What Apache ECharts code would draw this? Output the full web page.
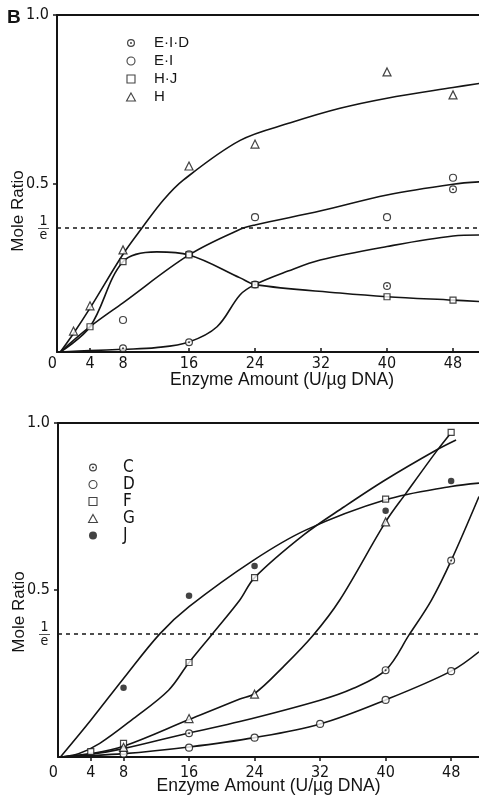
<!DOCTYPE html>
<html><head><meta charset="utf-8">
<script src="https://cdn.jsdelivr.net/npm/echarts@6/dist/echarts.min.js"></script>
<style>html,body{margin:0;padding:0;background:#fff}#c{width:479px;height:799px}</style>
</head><body><div id="c"></div>
<script>
// ---------- axis ticks ----------
const xTickValues = [0, 4, 8, 16, 24, 32, 40, 48];
const xTickMarks = [4, 8, 16, 24, 32, 40, 48];
const yTickMarks = [0.5, 1];
const INV_E = 1 / Math.E;
const yLabelValues = [INV_E, 0.5, 1];
const xTitle = 'Enzyme Amount (U/µg DNA)';
const yTitle = 'Mole Ratio';

// ---------- top panel (B) measured points ----------
const eidPts = [[8,0.011],[16,0.029],[24,0.20],[40,0.196],[48,0.483]];
const eiPts  = [[8,0.095],[16,0.29],[24,0.40],[40,0.40],[48,0.517]];
const hjPts  = [[4,0.075],[8,0.268],[16,0.288],[24,0.20],[40,0.164],[48,0.154]];
const hPts   = [[2,0.062],[4,0.137],[8,0.303],[16,0.552],[24,0.617],[40,0.831],[48,0.763]];
// ---------- top panel drawn curves ----------
const eidCurve = [[0.4,0],[4,0.004],[8,0.008],[12,0.013],[16,0.03],[19.4,0.075],[22.2,0.17],[24,0.20],[28,0.24],[31.9,0.273],[40,0.313],[48,0.344],[51.2,0.347]];
const eiCurve  = [[0.4,0],[4,0.075],[8,0.146],[16,0.288],[22.2,0.364],[24,0.377],[32,0.419],[40,0.466],[48,0.498],[51.2,0.505]];
const hjCurve  = [[0.4,0],[4,0.075],[8,0.268],[12.1,0.297],[16,0.288],[22.2,0.22],[24,0.20],[34.3,0.175],[40,0.164],[48,0.154],[51.2,0.15]];
const hCurve   = [[0.4,0],[2,0.055],[4,0.13],[8,0.29],[10.3,0.368],[12.9,0.451],[15.3,0.51],[22.2,0.628],[28.3,0.68],[34.3,0.723],[40,0.753],[48,0.785],[51.2,0.797]];

// ---------- bottom panel measured points ----------
const cPts = [[8,0.018],[16,0.071],[40,0.26],[48,0.588]];
const dPts = [[8,0.010],[16,0.028],[24,0.058],[32,0.099],[40,0.171],[48,0.257]];
const fPts = [[4,0.016],[8,0.041],[16,0.283],[24,0.537],[40,0.772],[48,0.972]];
const gPts = [[8,0.029],[16,0.115],[24,0.188],[40,0.704]];
const jPts = [[8,0.207],[16,0.483],[24,0.572],[40,0.737],[48,0.826]];
// ---------- bottom panel drawn curves ----------
const cCurve = [[0.3,0],[4,0.008],[8,0.025],[16,0.072],[22.2,0.106],[32,0.17],[36,0.205],[40,0.26],[42.9,0.367],[45.6,0.47],[48,0.588],[51.4,0.78]];
const dCurve = [[0.3,0],[8,0.01],[16,0.03],[24,0.058],[32,0.099],[40,0.171],[48,0.257],[51.4,0.315]];
const fCurve = [[0.3,0],[2.5,0.01],[5.1,0.041],[9.2,0.115],[13.5,0.2],[16,0.283],[18.9,0.37],[22.2,0.47],[24,0.537],[30,0.665],[35,0.75],[40,0.83],[46.2,0.919],[48.6,0.949]];
const gCurve = [[0.3,0],[4,0.01],[8,0.032],[16,0.112],[22.2,0.174],[24,0.19],[27.5,0.27],[31.1,0.363],[34.4,0.47],[40,0.704],[42.5,0.79],[46.2,0.915],[47.8,0.965]];
const jCurve = [[0.3,0],[4,0.11],[8,0.235],[12.4,0.368],[16,0.45],[23.8,0.588],[30.3,0.68],[40,0.77],[48,0.81],[51.4,0.82]];

// ---------- styling ----------
const INK = '#141414';
const TICKF = 'DejaVu Sans Condensed, Liberation Sans, sans-serif';
const SANS = 'Liberation Sans, sans-serif';
const RING = 'path://M10,0A10,10,0,1,1,10,20A10,10,0,1,1,10,0ZM10,3A7,7,0,1,0,10,17A7,7,0,1,0,10,3ZM10,7.5A2.5,2.5,0,1,1,10,12.5A2.5,2.5,0,1,1,10,7.5Z';
const SQUARE = 'path://M0,0L10,0L10,10L0,10Z';
const TRI = 'path://M5,0L10,9L0,9Z';

function xFmt(v){ return String(v); }
function yFmt(v){
  if (Math.abs(v - 1) < 1e-9) return '1.0';
  if (Math.abs(v - 0.5) < 1e-9) return '0.5';
  return '{n|1}\n{b|—}\n{d|e}';
}

function xAxisMain(grid, max, margin, inside, nameGap, namePadLeft){
  return {
    gridIndex: grid, type: 'value', min: 0, max: max, position: 'bottom',
    axisLine: {show: true, onZero: false, lineStyle: {color: INK, width: 2}},
    axisTick: {show: true, inside: inside, length: 4, customValues: xTickMarks, lineStyle: {color: INK, width: 1.5}},
    axisLabel: {customValues: xTickValues, formatter: xFmt, margin: margin, alignMinLabel: 'right',
      fontFamily: TICKF, fontSize: 16, color: INK},
    splitLine: {show: false},
    name: xTitle, nameLocation: 'middle', nameGap: nameGap, nameMoveOverlap: false,
    nameTextStyle: {fontFamily: SANS, fontSize: 17.5, color: INK, padding: [0, 0, 0, namePadLeft]}
  };
}
function xAxisFrame(grid, max){
  return {gridIndex: grid, type: 'value', min: 0, max: max, position: 'top',
    axisLine: {show: true, onZero: false, lineStyle: {color: INK, width: 2}},
    axisTick: {show: false}, axisLabel: {show: false}, splitLine: {show: false}};
}
function yAxisMain(grid, nameGap, namePadRight){
  return {
    gridIndex: grid, type: 'value', min: 0, max: 1,
    axisLine: {show: true, onZero: false, lineStyle: {color: INK, width: 2}},
    axisTick: {show: true, length: 4, customValues: yTickMarks, lineStyle: {color: INK, width: 1.5}},
    axisLabel: {customValues: yLabelValues, formatter: yFmt, margin: 8, fontFamily: TICKF, fontSize: 16, color: INK,
      rich: {
        n: {fontFamily: TICKF, fontSize: 14, lineHeight: 11, align: 'center', color: INK},
        b: {fontFamily: SANS, fontSize: 11, lineHeight: 3, align: 'center', color: INK},
        d: {fontFamily: TICKF, fontSize: 14, lineHeight: 11, align: 'center', color: INK}
      }},
    splitLine: {show: false},
    name: yTitle, nameLocation: 'middle', nameRotate: 90, nameGap: nameGap, nameMoveOverlap: false,
    nameTextStyle: {fontFamily: SANS, fontSize: 17, color: INK, padding: [0, namePadRight, 0, 0]}
  };
}

function curve(data, xi, withRefLine){
  const s = {type: 'line', xAxisIndex: xi, yAxisIndex: xi === 0 ? 0 : 1, data: data, smooth: 0.35,
    showSymbol: false, symbol: 'none', lineStyle: {color: INK, width: 1.6}, z: 2, silent: true};
  if (withRefLine) {
    s.markLine = {silent: true, symbol: 'none', label: {show: false},
      lineStyle: {type: [4, 4], color: INK, width: 1.5}, data: [{yAxis: INV_E}]};
  }
  return s;
}
const hollow = {color: '#fff', borderColor: INK, borderWidth: 1.2};
function marks(name, data, xi, kind){
  const base = {type: 'scatter', name: name, xAxisIndex: xi, yAxisIndex: xi === 0 ? 0 : 1, data: data, z: 4, silent: true};
  if (kind === 'ring') return Object.assign(base, {symbol: RING, symbolSize: 8, itemStyle: {color: INK}});
  if (kind === 'circle') return Object.assign(base, {symbol: 'circle', symbolSize: 7, itemStyle: hollow});
  if (kind === 'rect') return Object.assign(base, {symbol: SQUARE, symbolSize: 6, itemStyle: hollow});
  if (kind === 'tri') return Object.assign(base, {symbol: TRI, symbolSize: 8, itemStyle: hollow});
  return Object.assign(base, {symbol: 'circle', symbolSize: 6.5, itemStyle: {color: INK}});
}
function backing(data, xi){
  return {type: 'scatter', name: '_bg', xAxisIndex: xi, yAxisIndex: xi === 0 ? 0 : 1, data: data, z: 3, silent: true,
    symbol: 'circle', symbolSize: 7, itemStyle: {color: '#fff'}};
}

const X_MAX_TOP = 51.15, X_MAX_BOT = 51.4;

const option = {
  animation: false,
  backgroundColor: '#fff',
  title: {text: 'B', left: 7, top: 8, padding: 0,
    textStyle: {fontFamily: SANS, fontWeight: 'bold', fontSize: 19, color: INK}},
  grid: [
    {left: 57, top: 15, right: 0, height: 337, containLabel: false, outerBoundsMode: 'none'},
    {left: 58, top: 423, right: 0, height: 334, containLabel: false, outerBoundsMode: 'none'}
  ],
  xAxis: [
    xAxisMain(0, X_MAX_TOP, 4, true, 19, 28),
    xAxisMain(1, X_MAX_BOT, 8, false, 20, 0),
    xAxisFrame(0, X_MAX_TOP),
    xAxisFrame(1, X_MAX_BOT)
  ],
  yAxis: [yAxisMain(0, 30, 55), yAxisMain(1, 30, 44)],
  legend: [
    {left: 126, top: 34, orient: 'vertical', itemWidth: 36, itemHeight: 8, itemGap: 0, padding: 0,
      selectedMode: false, symbolKeepAspect: true, data: ['E·I·D', 'E·I', 'H·J', 'H'],
      itemStyle: {borderWidth: 1.1},
      textStyle: {fontFamily: SANS, fontSize: 15, lineHeight: 18, color: INK}},
    {left: 88, top: 459, orient: 'vertical', itemWidth: 50, itemHeight: 8, itemGap: 0, padding: 0,
      selectedMode: false, symbolKeepAspect: true, data: ['C', 'D', 'F', 'G', 'J'],
      itemStyle: {borderWidth: 1.1},
      textStyle: {fontFamily: TICKF, fontSize: 17, lineHeight: 16.5, color: INK}}
  ],
  series: [
    curve(hCurve, 0, true), curve(hjCurve, 0), curve(eiCurve, 0), curve(eidCurve, 0),
    backing(eidPts, 0),
    marks('E·I·D', eidPts, 0, 'ring'), marks('E·I', eiPts, 0, 'circle'),
    marks('H·J', hjPts, 0, 'rect'), marks('H', hPts, 0, 'tri'),
    curve(jCurve, 1, true), curve(fCurve, 1), curve(gCurve, 1), curve(cCurve, 1), curve(dCurve, 1),
    backing(cPts, 1),
    marks('C', cPts, 1, 'ring'), marks('D', dPts, 1, 'circle'), marks('F', fPts, 1, 'rect'),
    marks('G', gPts, 1, 'tri'), marks('J', jPts, 1, 'dot')
  ]
};
const chart = echarts.init(document.getElementById('c'), null, {renderer: 'canvas'});
chart.setOption(option);
</script></body></html>
